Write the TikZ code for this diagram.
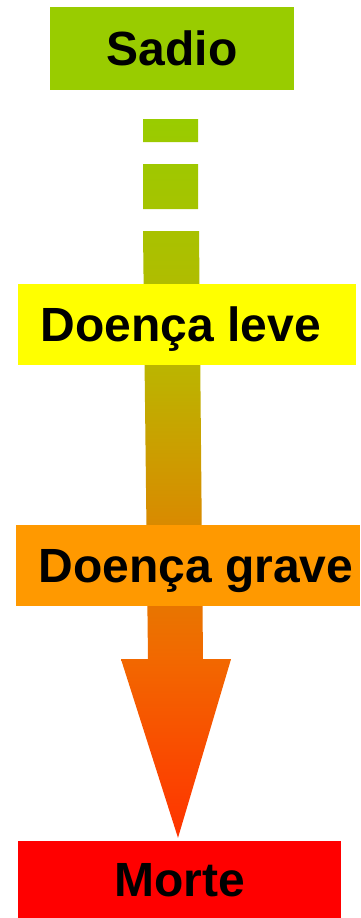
\documentclass[tikz,border=0pt]{standalone}
\usepackage{fontspec}
\setmainfont{Liberation Sans}
\usetikzlibrary{backgrounds,calc}

\definecolor{verde}{HTML}{99CC00}
\definecolor{amarelo}{HTML}{FFFF00}
\definecolor{laranja}{HTML}{FF9900}
\definecolor{vermelho}{HTML}{FF0000}
\definecolor{seta1}{HTML}{FF3300}
\definecolor{seta2}{HTML}{F26800}
\definecolor{seta3}{HTML}{D98A00}
\definecolor{seta4}{HTML}{BBB500}

\pgfdeclareverticalshading{setashade}{100bp}{color(0bp)=(seta1); color(25bp)=(seta1);
  color(37.5bp)=(seta2); color(46.8bp)=(seta3); color(57.8bp)=(seta4);
  color(75bp)=(verde); color(100bp)=(verde)}

\tikzset{estado/.style={inner sep=0pt, minimum height=81pt, text height=34pt, text depth=0pt,
  font=\fontsize{48pt}{50pt}\selectfont\bfseries}}

\begin{document}
\begin{tikzpicture}[x=1pt,y=-1pt]

\useasboundingbox (0,0) rectangle (360,918);

\node[estado,fill=verde,minimum width=244pt,minimum height=83pt]
(S)
at (172,48.5)
{Sadio};

\node[estado,fill=amarelo,minimum width=338pt]
(L)
at (187,324.5)
{Doença leve\kern12pt};

\node[estado,fill=laranja,minimum width=344pt]
(G)
at (188,565.5)
{\kern16pt Doença grave};

\node[estado,fill=vermelho,minimum width=323pt,minimum height=77pt]
(M)
at (179.5,879.5)
{Morte};

\coordinate (tip) at ($(M.north)+(-1.5,-3)$);

% seta de Sadio a Morte, por tras das caixas
\begin{scope}[on background layer,shift={(S.south)}]
\shade[shading=setashade]
  (-29,29) rectangle (26,52)
  (-29,74) rectangle (26,119)
  (-29,141) -- (-24,569) -- (-51,569) -- (tip) -- (59,569) -- (31,569) -- (27,141) -- cycle;
\end{scope}

\end{tikzpicture}
\end{document}
